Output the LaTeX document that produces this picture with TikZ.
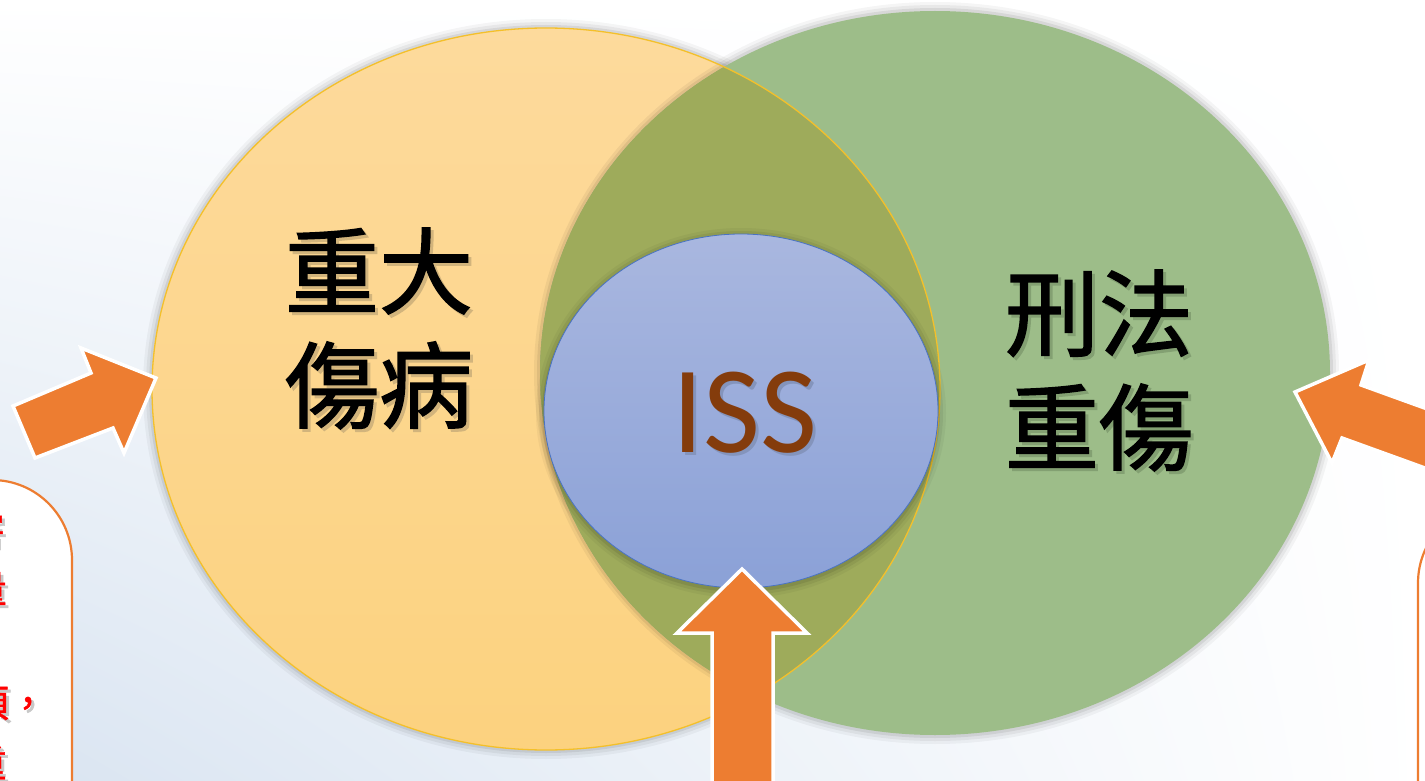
\documentclass[tikz,border=0pt]{standalone}
\usepackage{fontspec}
\newfontfamily\cjk{Noto Sans CJK TC}[FakeBold=1.6]
\newfontfamily\cjkred{Noto Sans CJK TC}[FakeBold=1.2]
\newfontfamily\calibrifont{Carlito}
\usetikzlibrary{shapes.geometric,shadings}
\definecolor{bgblue}{HTML}{D9E4F1}
\definecolor{yellowtop}{HTML}{FDDA9C}
\definecolor{yellowbot}{HTML}{FCD27F}
\definecolor{yellowline}{HTML}{F4C02A}
\definecolor{greenfill}{HTML}{9DBD89}
\definecolor{olivefill}{HTML}{9EAB5B}
\definecolor{bluetop}{HTML}{A9B7DF}
\definecolor{bluebot}{HTML}{8BA1D7}
\definecolor{blueline}{HTML}{4A73C3}
\definecolor{arroworange}{HTML}{ED7D31}
\definecolor{issbrown}{HTML}{843C0C}
\definecolor{yshadow}{HTML}{D2B47C}
\definecolor{gshadow}{HTML}{83A072}
\definecolor{bshadow}{HTML}{8494BC}
\definecolor{rshadow}{HTML}{C8C8C8}
\newcommand\shadowed[2]{\rlap{\kern3pt\raisebox{-3pt}{\textcolor{#1}{#2}}}#2}
\begin{document}
\begin{tikzpicture}[x=1pt, y=-1pt,
  venn/.style={ellipse, inner sep=0pt, outer sep=0pt},
  infobox/.style={draw=arroworange, line width=2.2pt, fill=white, rounded corners=80pt, inner sep=0pt},
  blockarrow/.style={fill=arroworange, draw=white, line width=3.5pt, line join=miter},
  cjktext/.style={font=\cjk\fontsize{94}{114}\selectfont, align=center, inner sep=0pt},
  redtext/.style={font=\cjkred\fontsize{38}{40}\selectfont, text=red, inner sep=0pt, anchor=east}
]
\useasboundingbox (0,0) rectangle (1425,781);
\clip (0,0) rectangle (1425,781);
% background
\shade[upper left=white, upper right=white, lower right=white, lower left=bgblue] (0,0) rectangle (1425,781);

% side boxes
\node[infobox, minimum width=272pt, minimum height=470pt] (lbox) at (-64,715) {};
\node[redtext] (l1) at (5,531) {\shadowed{rshadow}{害}};
\node[redtext] (l2) at (7,590) {\shadowed{rshadow}{量}};
\node[redtext] (l4) at (47,705) {\shadowed{rshadow}{項，}};
\node[redtext] (l5) at (7,764) {\shadowed{rshadow}{重}};
\node[infobox, minimum width=282pt, minimum height=446pt] (rbox) at (1559,726) {};

% shadows of the two big ellipses
\foreach \k/\o in {9/0.04,6/0.05,3/0.07}{
  \fill[black, opacity=\o] (546,389) ellipse [x radius=394pt+\k pt, y radius=361pt+\k pt];
  \fill[black, opacity=\o] (935,373) ellipse [x radius=395pt+\k pt, y radius=362pt+\k pt];
}
% yellow ellipse
\node[venn, minimum width=788pt, minimum height=722pt, top color=yellowtop, bottom color=yellowbot] (Y) at (546,389) {};
% green ellipse
\node[venn, minimum width=790pt, minimum height=724pt, fill=greenfill] (G) at (935,373) {};
% overlap
\begin{scope}
  \clip (Y.center) ellipse [x radius=394pt, y radius=361pt];
  \foreach \k/\o in {6/0.05,3/0.07}{
    \fill[black, opacity=\o] (G.center) ellipse [x radius=395pt+\k pt, y radius=362pt+\k pt];
  }
  \fill[olivefill] (G.center) ellipse [x radius=395pt, y radius=362pt];
\end{scope}
\draw[yellowline, line width=1.3pt] (Y.center) ellipse [x radius=394pt, y radius=361pt];

% blue ellipse
\foreach \k/\o in {8/0.04,5/0.06,2/0.08}{
  \fill[black, opacity=\o] (741,413) ellipse [x radius=197pt+\k pt, y radius=177pt+\k pt];
}
\node[venn, minimum width=394pt, minimum height=354pt, top color=bluetop, bottom color=bluebot, draw=blueline, line width=0.8pt] (B) at (741,411) {};

% texts
\node[cjktext] (yt) at (379,330) {\shadowed{yshadow}{重大}\\\shadowed{yshadow}{傷病}};
\node[cjktext] (gt) at (1099,372) {\shadowed{gshadow}{刑法}\\\shadowed{gshadow}{重傷}};
\node[font=\calibrifont\fontsize{124}{124}\selectfont, text=issbrown, inner sep=0pt] (iss) at (745,414) {\shadowed{bshadow}{ISS}};

% block arrows
\draw[blockarrow] (13,406) -- (91,373) -- (81,348) -- (156,378) -- (124,453) -- (113,428) -- (35,458) -- cycle;
\draw[blockarrow] (1295,392) -- (1369,360) -- (1361,385) -- (1502,436) -- (1483,489) -- (1342,438) -- (1332,463) -- cycle;
\draw[blockarrow] (742,569) -- (807,633) -- (773,633) -- (773,800) -- (712,800) -- (712,633) -- (677,633) -- cycle;
\end{tikzpicture}
\end{document}
